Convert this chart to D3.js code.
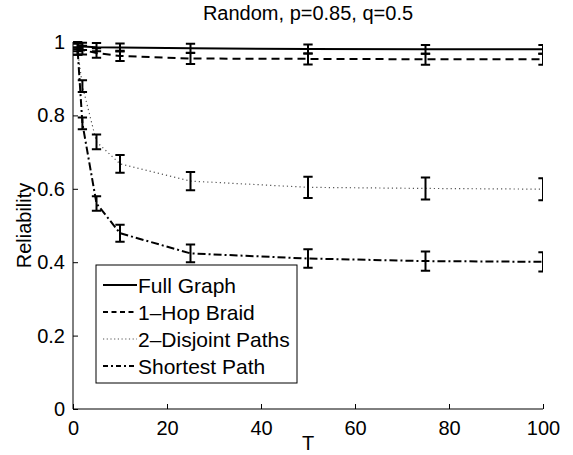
<!DOCTYPE html>
<html>
<head>
<meta charset="utf-8">
<script src="https://cdn.jsdelivr.net/npm/d3@7"></script>
<style>
  body { margin: 0; background: #fff; }
  text { font-family: "Liberation Sans", Arial, sans-serif; }
</style>
</head>
<body>
<div id="chart"></div>
<script>
var w = 573;
var h = 455;
var margin = {top: 42, right: 30, bottom: 46, left: 73};

// data
var T = [1, 2, 5, 10, 25, 50, 75, 100];
var seriesNames = ["Full Graph", "1\u2013Hop Braid", "2\u2013Disjoint Paths", "Shortest Path"];
var fullGraph = [0.990, 0.988, 0.986, 0.985, 0.983, 0.981, 0.980, 0.980];
var fullGraphErr = [0.010, 0.010, 0.011, 0.011, 0.012, 0.012, 0.012, 0.012];
var hopBraid = [0.985, 0.978, 0.970, 0.962, 0.955, 0.954, 0.953, 0.953];
var hopBraidErr = [0.010, 0.012, 0.013, 0.014, 0.015, 0.015, 0.015, 0.015];
var disjoint = [0.975, 0.880, 0.728, 0.668, 0.621, 0.604, 0.601, 0.599];
var disjointErr = [0.010, 0.016, 0.020, 0.024, 0.025, 0.029, 0.030, 0.030];
var shortest = [0.975, 0.778, 0.560, 0.479, 0.424, 0.410, 0.403, 0.401];
var shortestErr = [0.010, 0.016, 0.020, 0.023, 0.024, 0.025, 0.026, 0.026];
var xTicks = [0, 20, 40, 60, 80, 100];
var yTicks = [0, 0.2, 0.4, 0.6, 0.8, 1];

var values = [fullGraph, hopBraid, disjoint, shortest];
var errors = [fullGraphErr, hopBraidErr, disjointErr, shortestErr];
var dashes = [null, "8,5", "1.2,3", "8,3,2,3"];
var legendDashes = [null, "5,3.5", "1.2,2.5", "5,3,2,3"];
var widths = [2, 2, 1.2, 2];
var strokes = ["#000", "#000", "#555", "#000"];

var series = seriesNames.map(function(name, i) {
    return {name: name, values: values[i].map(function(v, j) {
        return {t: T[j], v: v, e: errors[i][j]};
    })};
});

var x = d3.scaleLinear().domain([0, 100]).range([margin.left, w - margin.right]);
var y = d3.scaleLinear().domain([0, 1]).range([h - margin.bottom, margin.top]);

var svg = d3.select("#chart").append("svg")
    .attr("width", w)
    .attr("height", h);

svg.append("clipPath").attr("id", "clip")
    .append("rect")
    .attr("x", x(0)).attr("y", 0)
    .attr("width", x(100) - x(0)).attr("height", y(0));

// axes (ticks point inward)
var xAxis = svg.append("g")
    .attr("transform", "translate(0," + y(0) + ")")
    .call(d3.axisBottom(x).tickValues(xTicks).tickSize(-5).tickPadding(12).tickFormat(d3.format("d")));
var yAxis = svg.append("g")
    .attr("transform", "translate(" + x(0) + ",0)")
    .call(d3.axisLeft(y).tickValues(yTicks).tickSize(-5).tickPadding(8).tickFormat(function(d) { return d3.format("")(+d.toFixed(1)); }));

[xAxis, yAxis].forEach(function(g) {
    g.select(".domain").attr("stroke", "#000").attr("stroke-width", 1);
    g.selectAll(".tick line").attr("stroke", "#000");
    g.selectAll(".tick text").attr("font-size", 20).attr("fill", "#000")
        .attr("font-family", "Liberation Sans, Arial, sans-serif");
});
// no outer tick stubs
xAxis.select(".domain").attr("d", "M" + x(0) + ",0H" + x(100));
yAxis.select(".domain").attr("d", "M0," + y(0) + "V" + y(1));

var plot = svg.append("g").attr("clip-path", "url(#clip)");
var tee = (d3.max(T) - d3.min(T)) / 100;

var line = d3.line()
    .x(function(d) { return x(d.t); })
    .y(function(d) { return y(d.v); });

series.forEach(function(s, i) {
    plot.append("path")
        .datum(s.values)
        .attr("d", line)
        .attr("fill", "none")
        .attr("stroke", strokes[i])
        .attr("stroke-width", widths[i])
        .attr("stroke-dasharray", dashes[i]);

    plot.append("g").selectAll("path")
        .data(s.values)
        .enter()
        .append("path")
        .attr("d", function(d) {
            var lo = y(d.v - d.e), hi = y(d.v + d.e);
            return "M" + x(d.t) + "," + lo + "V" + hi +
                "M" + x(d.t - tee) + "," + hi + "H" + x(d.t + tee) +
                "M" + x(d.t - tee) + "," + lo + "H" + x(d.t + tee);
        })
        .attr("fill", "none")
        .attr("stroke", "#000")
        .attr("stroke-width", 2);
});

// title and labels
svg.append("text")
    .attr("x", (x(0) + x(100)) / 2).attr("y", 20)
    .attr("text-anchor", "middle").attr("font-size", 20)
    .text("Random, p=0.85, q=0.5");
svg.append("text")
    .attr("x", (x(0) + x(100)) / 2).attr("y", 450)
    .attr("text-anchor", "middle").attr("font-size", 20)
    .text("T");
svg.append("text")
    .attr("transform", "translate(31," + ((y(0) + y(1)) / 2) + ") rotate(-90)")
    .attr("text-anchor", "middle").attr("font-size", 20)
    .text("Reliability");

// legend
var legend = svg.append("g").attr("transform", "translate(96,265)");
legend.append("rect")
    .attr("width", 201).attr("height", 118)
    .attr("fill", "#fff").attr("stroke", "#000").attr("stroke-width", 1);

var items = legend.selectAll("g.item")
    .data(series)
    .enter()
    .append("g")
    .attr("transform", function(d, i) { return "translate(0," + (20 + i * 27) + ")"; });

items.append("line")
    .attr("x1", 7).attr("x2", 41).attr("y1", 0).attr("y2", 0)
    .attr("stroke", function(d, i) { return strokes[i]; })
    .attr("stroke-width", function(d, i) { return widths[i]; })
    .attr("stroke-dasharray", function(d, i) { return legendDashes[i]; });

items.append("text")
    .attr("x", 42).attr("y", 7.5)
    .attr("font-size", 21)
    .text(function(d) { return d.name; });
</script>
</body>
</html>
